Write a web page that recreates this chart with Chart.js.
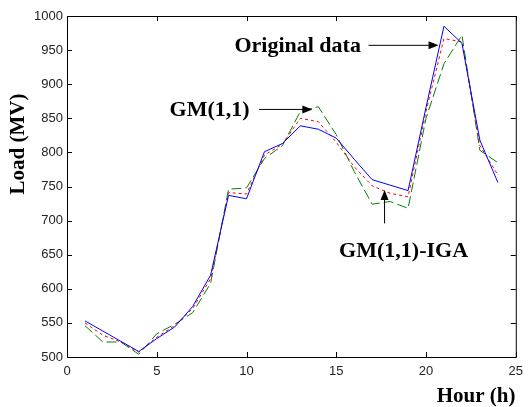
<!DOCTYPE html>
<html>
<head>
<meta charset="utf-8">
<script src="https://cdn.jsdelivr.net/npm/chart.js@4.4.1/dist/chart.umd.min.js"></script>
<style>
  html, body { margin: 0; padding: 0; background: #fff; }
  #wrap { width: 530px; height: 407px; }
</style>
</head>
<body>
<div id="wrap"><canvas id="grafico" width="530" height="407"></canvas></div>
<script>
// Datos (hora vs carga en MV)
const horas = [1, 2, 3, 4, 5, 6, 7, 8, 9, 10, 11, 12, 13, 14, 15, 16, 17, 18, 19, 20, 21, 22, 23, 24];
const datosOriginales = [553, 538, 523, 508, 527, 544, 574, 620, 737, 732, 801, 813, 839, 834, 821, 790, 760, 752, 744, 866, 985, 960, 818, 756];
const gmIGA = [550, 532, 522, 507, 529, 546, 571, 615, 741, 739, 796, 812, 850, 845, 815, 779, 751, 740, 735, 860, 967, 962, 810, 767];
const gm11 = [546, 522, 522, 504, 534, 548, 565, 608, 746, 748, 791, 810, 860, 867, 826, 772, 724, 728, 718, 850, 930, 972, 803, 785];
const ticksX = [0, 5, 10, 15, 20, 25];
const ticksY = [500, 550, 600, 650, 700, 750, 800, 850, 900, 950, 1000];

// Etiquetas con flecha (en unidades de los ejes)
const etiquetas = [
  { texto: 'Original data', x: 12.85, y: 955 },
  { texto: 'GM(1,1)', x: 7.94, y: 861 },
  { texto: 'GM(1,1)-IGA', x: 18.75, y: 655 }
];
const flechas = [
  { x0: 16.8, y0: 957, x1: 20.7, y1: 957 },
  { x0: 10.7, y0: 863, x1: 13.67, y1: 863 },
  { x0: 17.69, y0: 696, x1: 17.69, y1: 745 }
];

const puntos = arr => horas.map((h, i) => ({ x: h, y: arr[i] }));

// Plugin: marco, marcas hacia dentro, etiquetas y flechas
const decoracion = {
  id: 'decoracion',
  afterDraw(chart) {
    const c = chart.ctx;
    const a = chart.chartArea;
    const sx = chart.scales.x, sy = chart.scales.y;
    c.save();
    c.strokeStyle = '#000';
    c.lineWidth = 1;
    c.strokeRect(a.left + 0.5, a.top + 0.5, a.right - a.left, a.bottom - a.top);
    c.beginPath();
    ticksX.forEach(t => {
      const px = Math.round(sx.getPixelForValue(t)) + 0.5;
      c.moveTo(px, a.bottom); c.lineTo(px, a.bottom - 5);
      c.moveTo(px, a.top); c.lineTo(px, a.top + 5);
    });
    ticksY.forEach(t => {
      const py = Math.round(sy.getPixelForValue(t)) + 0.5;
      c.moveTo(a.left, py); c.lineTo(a.left + 5, py);
      c.moveTo(a.right, py); c.lineTo(a.right - 5, py);
    });
    c.stroke();

    c.fillStyle = '#000';
    c.font = 'bold 22px "Liberation Serif", "Times New Roman", serif';
    c.textAlign = 'center';
    c.textBaseline = 'middle';
    etiquetas.forEach(e => {
      c.fillText(e.texto, sx.getPixelForValue(e.x), sy.getPixelForValue(e.y));
    });

    flechas.forEach(f => {
      const x0 = sx.getPixelForValue(f.x0), y0 = sy.getPixelForValue(f.y0);
      const x1 = sx.getPixelForValue(f.x1), y1 = sy.getPixelForValue(f.y1);
      const ang = Math.atan2(y1 - y0, x1 - x0);
      c.beginPath();
      c.moveTo(x0, y0);
      c.lineTo(x1 - 8 * Math.cos(ang), y1 - 8 * Math.sin(ang));
      c.stroke();
      c.beginPath();
      c.moveTo(x1, y1);
      c.lineTo(x1 - 10 * Math.cos(ang) + 4 * Math.sin(ang), y1 - 10 * Math.sin(ang) - 4 * Math.cos(ang));
      c.lineTo(x1 - 10 * Math.cos(ang) - 4 * Math.sin(ang), y1 - 10 * Math.sin(ang) + 4 * Math.cos(ang));
      c.closePath();
      c.fill();
    });

    // Títulos de los ejes
    c.font = 'bold 21px "Liberation Serif", "Times New Roman", serif';
    c.fillText('Hour (h)', 476, 397);
    c.translate(18.5, 144);
    c.rotate(-Math.PI / 2);
    c.fillText('Load (MV)', 0, 0);
    c.restore();
  }
};

const ctx = document.getElementById('grafico').getContext('2d');
new Chart(ctx, {
  type: 'line',
  data: {
    datasets: [
      { label: 'Original data', data: puntos(datosOriginales), borderColor: '#0000ff', borderWidth: 1, pointRadius: 0, tension: 0 },
      { label: 'GM(1,1)-IGA', data: puntos(gmIGA), borderColor: '#ff0000', borderWidth: 1, borderDash: [3, 3], pointRadius: 0, tension: 0 },
      { label: 'GM(1,1)', data: puntos(gm11), borderColor: '#008000', borderWidth: 1, borderDash: [10, 4], pointRadius: 0, tension: 0 }
    ]
  },
  options: {
    responsive: false,
    animation: false,
    layout: { padding: { top: 16, right: 4, left: 0, bottom: 0 } },
    plugins: { legend: { display: false }, tooltip: { enabled: false } },
    scales: {
      x: {
        type: 'linear',
        min: 0, max: 25,
        afterBuildTicks: s => { s.ticks = ticksX.map(v => ({ value: v })); },
        afterFit: s => { s.height = 50; },
        grid: { drawOnChartArea: false, drawTicks: false },
        border: { display: false },
        ticks: { color: '#222', padding: 7, callback: v => String(v), font: { family: '"Liberation Sans", Arial, sans-serif', size: 13 } }
      },
      y: {
        min: 500, max: 1000,
        afterBuildTicks: s => { s.ticks = ticksY.map(v => ({ value: v })); },
        afterFit: s => { s.width = 67; },
        grid: { drawOnChartArea: false, drawTicks: false },
        border: { display: false },
        ticks: { color: '#222', padding: 4, callback: v => String(v), font: { family: '"Liberation Sans", Arial, sans-serif', size: 13 } }
      }
    }
  },
  plugins: [decoracion]
});
</script>
</body>
</html>
